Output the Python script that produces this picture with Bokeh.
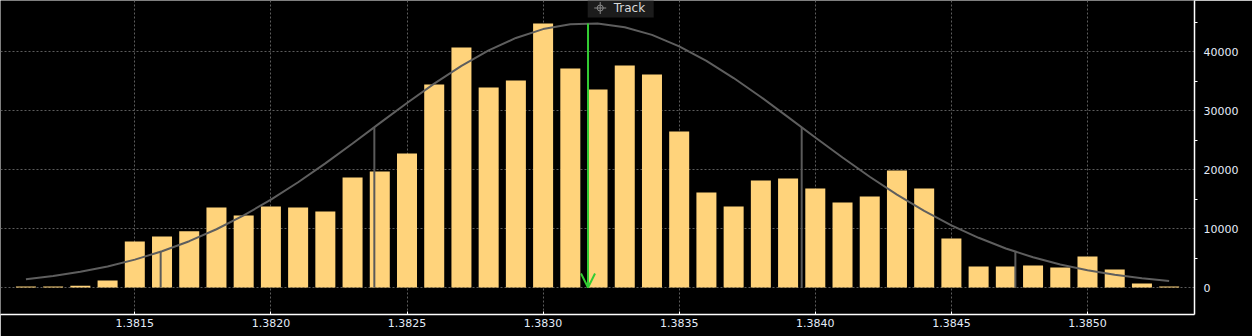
from bokeh.plotting import figure
from bokeh.models import (Range1d, FixedTicker, NumeralTickFormatter, Arrow, OpenHead,
                          Label, PolyAnnotation, ColumnDataSource)
from bokeh.embed import file_html
from bokeh.resources import INLINE

# ---- data ----
price = [1.3811, 1.3812, 1.3813, 1.3814, 1.3815, 1.3816, 1.3817, 1.3818, 1.3819, 1.3820,
         1.3821, 1.3822, 1.3823, 1.3824, 1.3825, 1.3826, 1.3827, 1.3828, 1.3829, 1.3830,
         1.3831, 1.3832, 1.3833, 1.3834, 1.3835, 1.3836, 1.3837, 1.3838, 1.3839, 1.3840,
         1.3841, 1.3842, 1.3843, 1.3844, 1.3845, 1.3846, 1.3847, 1.3848, 1.3849, 1.3850,
         1.3851, 1.3852, 1.3853]
volume = [150, 150, 300, 1200, 7820, 8680, 9530, 13600, 12230, 13750,
          13580, 12900, 18680, 19700, 22750, 34470, 40750, 33960, 35150, 44830,
          37190, 33620, 37700, 36170, 26490, 16130, 13750, 18170, 18510, 16810,
          14430, 15450, 19870, 16810, 8320, 3570, 3570, 3740, 3400, 5260,
          3060, 680, 170]
fit_curve = [1410, 1960, 2670, 3580, 4730, 6150, 7860, 9890, 12240, 14910,
             17870, 21070, 24440, 27900, 31330, 34620, 37640, 40250, 42370, 43870,
             44700, 44810, 44190, 42890, 40950, 38470, 35560, 32340, 28930, 25470,
             22070, 18800, 15770, 13010, 10560, 8440, 6630, 5130, 3900, 2920,
             2150, 1560, 1110]
mean_price = 1.383165
mean_top = 44830
band_prices = [1.381595, 1.382380, 1.383950, 1.384735]
band_tops = [6100, 27170, 27170, 6100]
x_ticks = [1.3815, 1.3820, 1.3825, 1.3830, 1.3835, 1.3840, 1.3845, 1.3850]
y_ticks = [0, 10000, 20000, 30000, 40000]
y_minor = [5000, 15000, 25000, 35000, 45000]
track_text = "Track"

BAR = "#FFD37B"
GRID = "#5c5c5c"
LABEL = "#e4ecf8"
X0, X1 = 1.3810066, 1.3853931
Y0, Y1 = -4584, 48727
PXX = (X1 - X0) / 1194.0
PXY = (Y1 - Y0) / 314.0

p = figure(width=1252, height=336, output_backend="svg", toolbar_location=None,
           x_range=Range1d(X0, X1), y_range=Range1d(Y0, Y1),
           y_axis_location="right",
           min_border_left=0, min_border_right=58, min_border_top=0, min_border_bottom=22,
           background_fill_color="black", border_fill_color="black",
           outline_line_color=None)

# grids
p.xgrid.grid_line_color = GRID
p.xgrid.grid_line_dash = "2 2"
p.ygrid.grid_line_color = GRID
p.ygrid.grid_line_dash = "2 2"

# x axis
xa = p.xaxis[0]
xa.ticker = FixedTicker(ticks=x_ticks, minor_ticks=[])
xa.formatter = NumeralTickFormatter(format="0.0000")
xa.axis_line_color = "white"
xa.axis_line_width = 1.5
xa.major_tick_line_color = "white"
xa.major_tick_in = 3
xa.major_tick_out = 0
xa.minor_tick_line_color = None
xa.major_label_text_color = LABEL
xa.major_label_text_font = "DejaVu Sans"
xa.major_label_text_font_size = "11px"
xa.major_label_standoff = 4

# y axis (right)
ya = p.yaxis[0]
ya.ticker = FixedTicker(ticks=y_ticks, minor_ticks=y_minor)
ya.axis_line_color = "white"
ya.axis_line_width = 1.5
ya.major_tick_line_color = None
ya.major_tick_in = 0
ya.major_tick_out = 8
ya.minor_tick_line_color = "white"
ya.minor_tick_in = 0
ya.minor_tick_out = 3
ya.major_label_text_color = LABEL
ya.major_label_text_font = "DejaVu Sans"
ya.major_label_text_font_size = "11px"
ya.major_label_standoff = 1

src = ColumnDataSource(dict(price=price, volume=volume, fit=fit_curve))
p.vbar(x="price", top="volume", bottom=0, width=0.0000735, source=src,
       fill_color=BAR, line_color=None)
p.line(x="price", y="fit", source=src, line_color="#5e5e5e", line_width=2)
p.segment(x0=band_prices, y0=[0] * len(band_prices), x1=band_prices, y1=band_tops,
          line_color="#5a5a5a", line_width=2)

p.add_layout(Arrow(end=OpenHead(size=14, line_color="#33cc33", line_width=2),
                   x_start=mean_price, y_start=mean_top, x_end=mean_price, y_end=0,
                   line_color="#33cc33", line_width=2))

# right-axis triangular major tick markers
for v in y_ticks:
    p.add_layout(PolyAnnotation(xs=[X1, X1 + 8 * PXX, X1],
                                ys=[v + 2.5 * PXY, v, v - 2.5 * PXY],
                                fill_color="white", fill_alpha=1.0, line_color=None))

# Track box
bx0 = mean_price - 0.3 * PXX
p.quad(left=[bx0], right=[bx0 + 66 * PXX], bottom=[Y1 - 17 * PXY], top=[Y1],
       fill_color="#1c1c1c", line_color=None)
ic_x = bx0 + 12.5 * PXX
ic_y = Y1 - 7.5 * PXY
p.scatter([ic_x], [ic_y], marker="circle", size=6, fill_color=None, line_color="#8a8a8a")
p.scatter([ic_x], [ic_y], marker="cross", size=12, line_color="#8a8a8a")
p.add_layout(Label(x=bx0 + 26 * PXX, y=ic_y, text=track_text, text_font="DejaVu Sans",
                   text_font_size="12px", text_color="#d8d8d8", text_baseline="middle"))

open("out.html", "w").write(file_html(p, INLINE))
